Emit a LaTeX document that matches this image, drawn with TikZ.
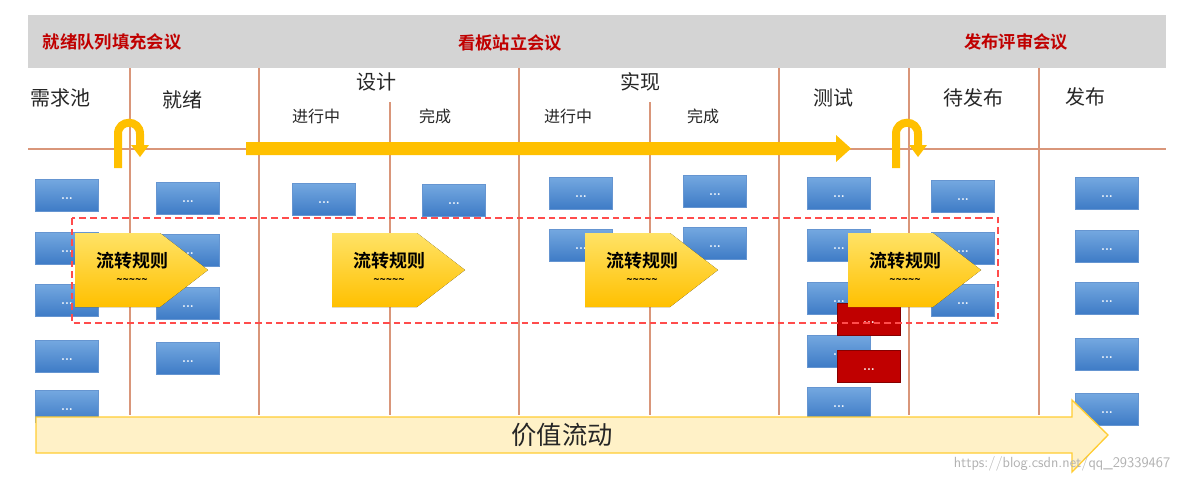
\documentclass[tikz,border=0pt]{standalone}
\usepackage{fontspec}
\newfontfamily\cjk{Noto Sans CJK SC}
\newfontfamily\cjkb{Noto Sans CJK SC Bold}
\usetikzlibrary{arrows.meta}
\definecolor{lane}{HTML}{D9967A}
\definecolor{cardT}{HTML}{74A8E0}
\definecolor{cardB}{HTML}{3E7BC6}
\definecolor{ylw}{HTML}{FFC000}
\definecolor{meet}{HTML}{C00000}
\tikzset{
  x=0.75pt,y=-0.75pt,
  lanel/.style={draw=lane,line width=0.9pt},
  card/.style={minimum width=47pt,minimum height=24pt,inner sep=0pt,top color=cardT,bottom color=cardB,draw=cardB!80,line width=0.3pt,text=white,font=\bfseries\fontsize{9}{9}\selectfont},
  redcard/.style={card,top color=meet,bottom color=meet,draw=meet!70!black},
  hdr/.style={font=\cjk\fontsize{15}{15}\selectfont,text=black!85},
  sub/.style={font=\cjk\fontsize{12}{12}\selectfont,text=black!85},
  mt/.style={font=\cjkb\fontsize{13}{13}\selectfont,text=meet},
  chev/.style={top color=ylw!75!yellow!60!white,bottom color=ylw,draw=none},
  rule/.style={font=\cjkb\fontsize{13.5}{13.5}\selectfont,text=black,align=center},
}
\begin{document}
\begin{tikzpicture}
\useasboundingbox (0,0) rectangle (1192,483);
\fill[white] (0,0) rectangle (1192,483);
% band
\fill[black!17] (28,15) rectangle (1166,68);
\node[mt] (m1) at (112,42) {就绪队列填充会议};
\node[mt] (m2) at (510,43) {看板站立会议};
\node[mt] (m3) at (1016,42) {发布评审会议};
% lanes
\draw[lanel] (28,149) -- (1166,149);
\foreach \x in {130,259,519,779,909,1039} \draw[lanel] (\x,68) -- (\x,415);
\foreach \x in {390,650} \draw[lanel] (\x,102) -- (\x,415);
% headers
\node[hdr] (h1) at (60,98) {需求池};
\node[hdr] (h2) at (182,100) {就绪};
\node[hdr] (h3) at (376,82) {设计};
\node[sub] (h3a) at (316,116) {进行中};
\node[sub] (h3b) at (435,116) {完成};
\node[hdr] (h4) at (640,82) {实现};
\node[sub] (h4a) at (568,116) {进行中};
\node[sub] (h4b) at (703,116) {完成};
\node[hdr] (h5) at (833,98) {测试};
\node[hdr] (h6) at (973,98) {待发布};
\node[hdr] (h7) at (1085,97) {发布};
% big flow arrow
\fill[ylw] (246,142) -- (836,142) -- (836,135) -- (851,148.5) -- (836,162) -- (836,155) -- (246,155) -- cycle;
% U-turns
\foreach \u in {118,896}{
  \draw[ylw,line width=6pt] (\u,168) -- (\u,134) .. controls (\u,119) and (\u+22,119) .. (\u+22,134) -- (\u+22,146);
  \fill[ylw] (\u+13,145) -- (\u+31,145) -- (\u+22,157) -- cycle;
}
% cards
\foreach \x/\ys in {67/{179,232,284,340,390},188/{182,234,287,342},324/{183},454/{184},581/{177,229},715/{175,227},839/{177,229,282,335,387},963/{180,232,284},1107/{177,230,282,338,393}}{
  \foreach \y in \ys \node[card,anchor=north] at (\x,\y) {\raisebox{-6pt}{...}};
}
\node[redcard,anchor=north] (r1) at (869,303) {\raisebox{-6pt}{...}};
\node[redcard,anchor=north] (r2) at (869,350) {\raisebox{-6pt}{...}};
% dashed box
\draw[red!70,line width=0.8pt,dash pattern=on 5pt off 3pt] (72,218) rectangle (998,323);
% chevrons
\foreach \cx/\nm in {75/c1,332/c2,585/c3,848/c4}{
  \fill[chev] (\cx,233) -- (\cx+85,233) -- (\cx+133,270) -- (\cx+85,307) -- (\cx,307) -- cycle;
  \node[rule] (\nm) at (\cx+57,268) {流转规则\\[-2pt]{\fontsize{8}{8}\selectfont\textasciitilde\textasciitilde\textasciitilde\textasciitilde\textasciitilde}};
}
% value flow
\draw[fill=ylw!22!white,draw=ylw!80,line width=1pt] (36,417) -- (1072,417) -- (1072,400) -- (1108,435) -- (1072,472) -- (1072,453) -- (36,453) -- cycle;
\node[font=\cjk\fontsize{19}{19}\selectfont,text=black!85] (vf) at (562,435) {价值流动};
\node[font=\fontsize{11}{11}\selectfont\sffamily,text=black!30] (wm) at (1062,464) {https://blog.csdn.net/qq\_29339467};
\end{tikzpicture}
\end{document}
